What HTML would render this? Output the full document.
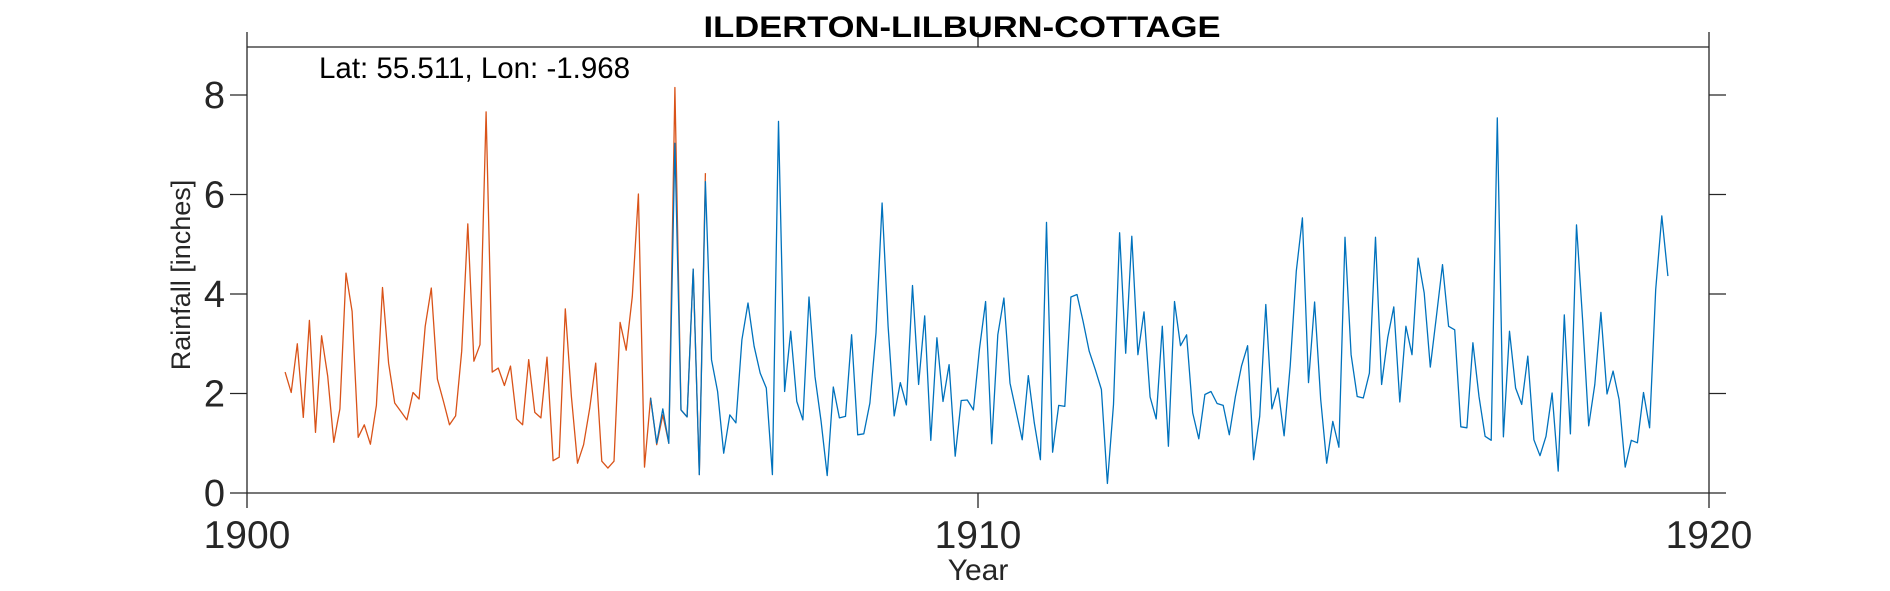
<!DOCTYPE html>
<html><head><meta charset="utf-8"><style>
html,body{margin:0;padding:0;background:#fff;}
svg{display:block;font-family:"Liberation Sans",Arial,sans-serif;}
</style></head><body>
<svg id="chart" width="1890" height="591" viewBox="0 0 1890 591">
<g id="axes"></g>
<g id="series"></g>
<text x="962" y="37" text-anchor="middle" font-size="30" font-weight="bold" fill="#000" textLength="517" lengthAdjust="spacingAndGlyphs">ILDERTON-LILBURN-COTTAGE</text>
<text x="319" y="78" font-size="29.5" fill="#000">Lat: 55.511, Lon: -1.968</text>
<text x="978" y="580" text-anchor="middle" font-size="30" fill="#262626">Year</text>
<text transform="translate(190,275) rotate(-90)" text-anchor="middle" font-size="27" fill="#262626">Rainfall [inches]</text>
</svg>
<script>
const xTicks = [1900, 1910, 1920];
const yTicks = [0, 2, 4, 6, 8];
const orangeStart = 6;
const orangeValues = [2.43,2.02,3.0,1.52,3.47,1.22,3.16,2.35,1.02,1.69,4.42,3.65,1.12,1.37,0.98,1.76,4.13,2.61,1.81,1.64,1.47,2.02,1.89,3.35,4.12,2.29,1.84,1.37,1.55,2.85,5.41,2.65,2.98,7.66,2.43,2.51,2.16,2.55,1.49,1.37,2.68,1.62,1.51,2.73,0.65,0.72,3.70,1.94,0.60,0.97,1.7,2.61,0.64,0.50,0.64,3.43,2.87,3.95,6.01,0.52,1.91,0.97,1.57,1.0,8.15,1.67,1.53,4.5,0.37,6.43];
const blueStart = 66;
const blueValues = [1.91,1.0,1.69,1.0,7.03,1.67,1.53,4.5,0.37,6.26,
2.68,2.04,0.80,1.57,1.41,3.08,3.82,2.95,2.41,2.11,0.37,7.47,2.04,3.25,1.84,1.47,3.94,2.34,1.44,0.35,2.13,1.51,1.54,3.18,1.17,1.19,1.81,3.22,5.83,3.35,1.55,2.22,1.77,4.17,2.18,3.56,1.06,3.12,1.84,2.58,0.74,1.86,1.87,1.67,2.9,3.85,0.99,3.18,3.92,
2.21,1.64,1.07,2.36,1.41,0.67,5.44,0.82,1.76,1.74,3.94,3.99,3.45,2.85,2.48,2.08,0.19,1.78,5.23,2.81,5.16,2.78,3.64,1.93,1.49,3.35,0.94,3.85,2.96,3.18,1.61,1.09,1.98,2.04,1.80,1.76,1.17,1.94,2.55,2.96,0.67,1.54,3.79,1.69,2.11,1.15,2.55,4.46,5.53,2.22,3.84,1.88,0.60,1.44,0.92,5.14,2.78,1.94,1.91,2.41,
5.14,2.18,3.12,3.74,1.83,3.35,2.78,4.72,4.02,2.53,3.55,4.59,3.35,3.28,1.33,1.31,3.02,1.94,1.14,1.06,7.54,1.13,3.25,2.11,1.78,2.75,1.07,0.75,1.14,2.01,0.44,3.58,1.19,5.39,3.48,1.35,2.18,3.63,1.99,2.45,1.88,0.52,1.06,1.01,2.02,1.31,4.09,5.57,4.36];

const L=247,R=1709,T=47,B=493,X0=1900,X1=1920,Y0=0,Y1=8.965;
function xs(v){return L+(v-X0)/(X1-X0)*(R-L);}
function ys(v){return B-(v-Y0)/(Y1-Y0)*(B-T);}
function monthX(i){return xs(X0+(i+0.25)/12);}
const NS='http://www.w3.org/2000/svg';
const axes=document.getElementById('axes');
const series=document.getElementById('series');
function line(x1,y1,x2,y2,name){
  const l=document.createElementNS(NS,'line');
  l.setAttribute('x1',x1);l.setAttribute('y1',y1);l.setAttribute('x2',x2);l.setAttribute('y2',y2);
  l.setAttribute('stroke','#262626');l.setAttribute('stroke-width','1.3');
  
  
  axes.appendChild(l);
}
line(L,T,R,T,'top-axis-line');
line(L,B,R,B,'x-axis-line');
line(L,T,L,B,'y-axis-line');
line(R,T,R,B,'right-axis-line');
xTicks.forEach(t=>{
  const x=xs(t);
  line(x,B,x,B+15,'x-tick');
  line(x,T,x,T-15,'x-tick-top');
  const tx=document.createElementNS(NS,'text');
  tx.setAttribute('x',x);tx.setAttribute('y',548);tx.setAttribute('text-anchor','middle');
  tx.setAttribute('font-size','39');tx.setAttribute('fill','#262626');
  tx.textContent=t;
  
  
  axes.appendChild(tx);
});
yTicks.forEach(t=>{
  const y=ys(t);
  line(L-17,y,L,y,'y-tick');
  line(R,y,R+17,y,'y-tick-right');
  const tx=document.createElementNS(NS,'text');
  tx.setAttribute('x',L-22);tx.setAttribute('y',y+13);tx.setAttribute('text-anchor','end');
  tx.setAttribute('font-size','38');tx.setAttribute('fill','#262626');
  tx.textContent=t;
  
  
  axes.appendChild(tx);
});
function drawSeries(vals,start,color,name){
  const p=document.createElementNS(NS,'polyline');
  p.setAttribute('points',vals.map((v,i)=>monthX(start+i).toFixed(1)+','+ys(v).toFixed(1)).join(' '));
  p.setAttribute('fill','none');p.setAttribute('stroke',color);p.setAttribute('stroke-width','1.3');
  p.setAttribute('stroke-linejoin','round');
  
  
  series.appendChild(p);
}
drawSeries(orangeValues,orangeStart,'#D95319','series-orange-line');
drawSeries(blueValues,blueStart,'#0072BD','series-blue-line');
</script>
</body></html>
